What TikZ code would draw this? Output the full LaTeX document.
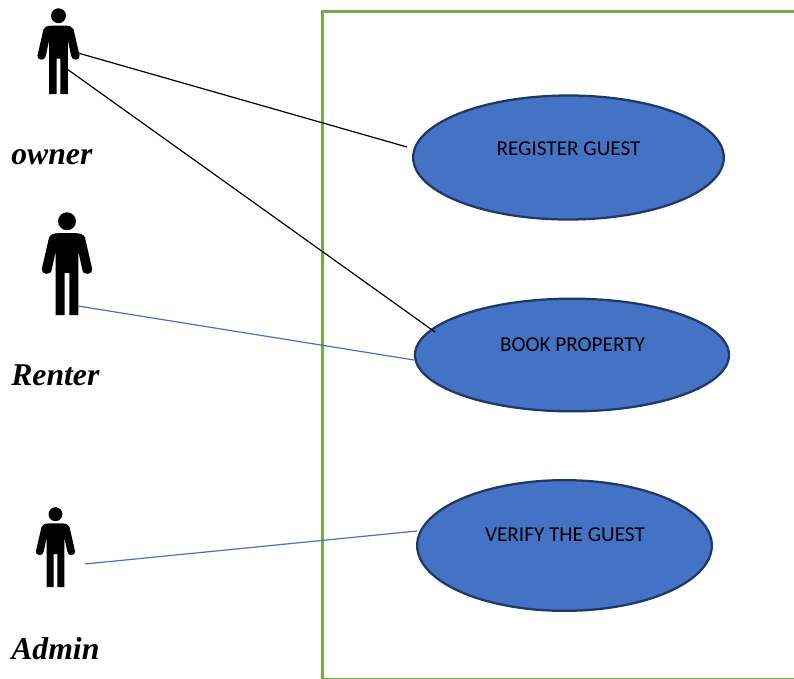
\documentclass[tikz,border=0pt]{standalone}
\usepackage{fontspec}
\setmainfont{Liberation Serif}
\newfontfamily\bubblefont{Carlito}
\usetikzlibrary{shapes.geometric}
\definecolor{sysgreen}{HTML}{70AD47}
\definecolor{bubblefill}{HTML}{4472C4}
\definecolor{bubbleline}{HTML}{203864}
\definecolor{assocblue}{HTML}{4472C4}
\tikzset{
  pics/person/.style={code={
    \fill[black] (0,9) circle (8.7);
    \fill[black] (-8,20.5) -- (8,20.5) .. controls (13,20.5) and (16.5,22) .. (17.5,25)
      -- (24.5,55.5) .. controls (25.5,60.5) and (15.5,62.5) .. (14.8,55.8)
      -- (11,38) -- (11,100) -- (2.3,100) -- (2.3,59) -- (-2.3,59) -- (-2.3,100) -- (-11,100) -- (-11,38)
      -- (-14.8,55.8) .. controls (-15.5,62.5) and (-25.5,60.5) .. (-24.5,55.5)
      -- (-17.5,25) .. controls (-16.5,22) and (-13,20.5) .. (-8,20.5) -- cycle;
  }},
  usecase/.style={ellipse, draw=bubbleline, line width=1.7pt, fill=bubblefill, inner sep=0pt},
  casetext/.style={font=\bubblefont\fontsize{15.9}{18}\selectfont, text=black, inner sep=0pt},
  actor/.style={font=\bfseries\itshape\fontsize{23.8}{28}\selectfont, anchor=base west, inner sep=0pt}
}
\begin{document}
\begin{tikzpicture}[x=0.75pt, y=-0.75pt]
  \useasboundingbox (0,0) rectangle (794,679);
  \draw[sysgreen, line width=2.2pt] (794,11.5) -- (322.5,11.5) -- (322.5,679.5) -- (794,679.5);

  \pic[scale=0.86] at (58.5,8) {person};
  \pic[scale=1.03] at (67,212) {person};
  \pic[scale=0.80] at (55.5,507) {person};

  \node[actor] (ow) at (11,164) {owner};
  \node[actor] (rt) at (11,385) {Renter};
  \node[actor] (ad) at (11,659) {Admin};

  \node[usecase, minimum width=233pt, minimum height=93pt] (rg) at (568.5,157.5) {};
  \node[usecase, minimum width=235.5pt, minimum height=84.5pt] (bk) at (572,355) {};
  \node[usecase, minimum width=221pt, minimum height=98pt] (vf) at (564.5,545.5) {};
  \node[casetext] (rgt) at (568.5,148.5) {REGISTER GUEST};
  \node[casetext] (bkt) at (572.5,344.5) {BOOK PROPERTY};
  \node[casetext] (vft) at (565,534.5) {VERIFY THE GUEST};

  \coordinate (owa) at (78,53);
  \coordinate (owb) at (67,69);
  \coordinate (rta) at (78,306);
  \coordinate (ada) at (85,564);
  \coordinate (rge) at (407,147);
  \coordinate (bke) at (435,332);
  \coordinate (bkw) at (414,360);
  \coordinate (vfw) at (417,531);
  \draw[black, line width=0.9pt] (owa)--(rge);
  \draw[black, line width=0.9pt] (owb)--(bke);
  \draw[assocblue, line width=0.9pt] (rta)--(bkw);
  \draw[assocblue, line width=0.9pt] (ada)--(vfw);
\end{tikzpicture}
\end{document}
